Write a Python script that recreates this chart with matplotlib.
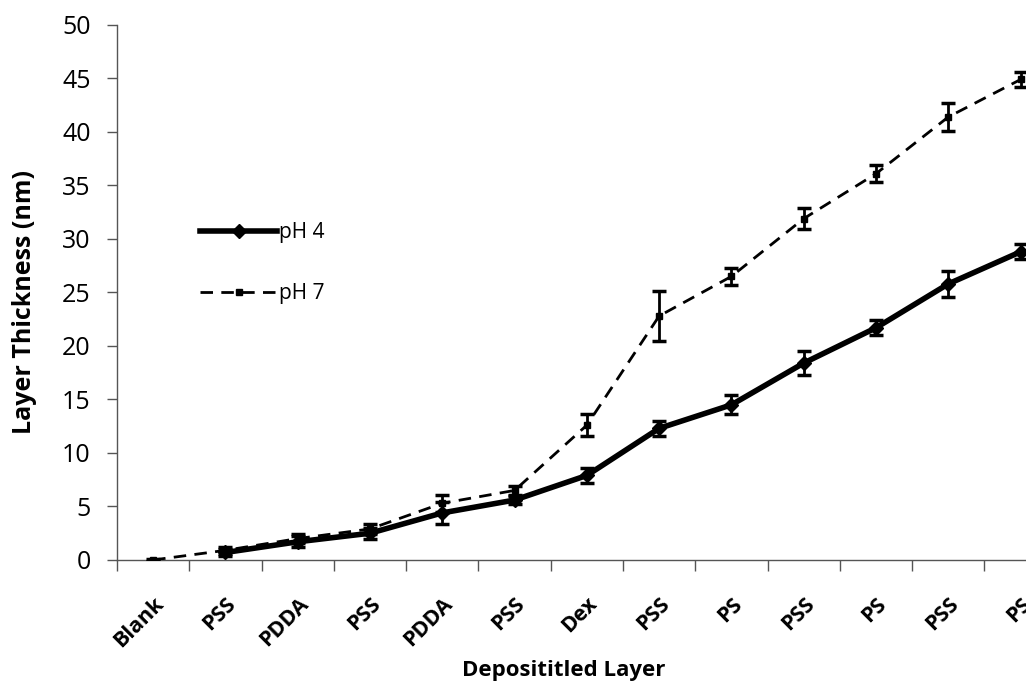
import matplotlib
matplotlib.use("Agg")
import matplotlib.pyplot as plt
from matplotlib.lines import Line2D
from matplotlib.ticker import FixedLocator, NullFormatter

layers = ["Blank", "PSS", "PDDA", "PSS", "PDDA", "PSS", "Dex",
          "PSS", "PS", "PSS", "PS", "PSS", "PS"]

# pH 4 starts at the first PSS layer
ph4_vals = [0.7, 1.7, 2.5, 4.4, 5.6, 7.9, 12.3, 14.5, 18.4, 21.7, 25.8, 28.8]
ph4_err = [0.3, 0.5, 0.5, 1.0, 0.4, 0.7, 0.7, 0.9, 1.1, 0.7, 1.2, 0.7]

ph7_vals = [0.0, 0.9, 2.0, 2.9, 5.3, 6.5, 12.6, 22.8, 26.5, 31.9, 36.1, 41.4, 44.9]
ph7_err = [0.1, 0.3, 0.4, 0.5, 0.8, 0.4, 1.0, 2.3, 0.8, 1.0, 0.8, 1.3, 0.7]

FONT = "Open Sans"
AXIS_GREY = "#555555"

fig = plt.figure(figsize=(10.26, 6.86), dpi=100)
ax = fig.add_axes([0.114, 0.1837, 0.916, 0.78])

x7 = list(range(len(layers)))
x4 = x7[1:]

ph7_style = dict(color="black", lw=2, ls=(0, (4.5, 3)), marker="s", ms=5)
ph4_style = dict(color="black", lw=4, ls="-", marker="D", ms=7)

ax.errorbar(x7, ph7_vals, yerr=ph7_err, capsize=5, capthick=2.5, elinewidth=2,
            zorder=3, **ph7_style)
ax.errorbar(x4, ph4_vals, yerr=ph4_err, capsize=5, capthick=2.5, elinewidth=2,
            zorder=4, **ph4_style)

ax.set_xlim(-0.5, len(layers) - 0.5)
ax.set_ylim(0, 50)
ax.set_yticks(range(0, 51, 5))

ax.set_xticks(x7)
ax.set_xticklabels(layers, rotation=45, ha="right", rotation_mode="anchor",
                   fontsize=15.5, fontweight="bold", family=FONT)
ax.xaxis.set_minor_locator(FixedLocator([i + 0.5 for i in range(-1, len(layers))]))
ax.xaxis.set_minor_formatter(NullFormatter())
ax.tick_params(axis="x", which="major", length=0, pad=24)
ax.tick_params(axis="x", which="minor", length=8, width=1, color=AXIS_GREY)
ax.tick_params(axis="y", length=7, width=1, color=AXIS_GREY, labelsize=18, pad=12)
for lab in ax.get_yticklabels():
    lab.set_family(FONT)

for side in ["top", "right"]:
    ax.spines[side].set_visible(False)
for side in ["left", "bottom"]:
    ax.spines[side].set_color(AXIS_GREY)
    ax.spines[side].set_linewidth(1)

fig.text(0.0234, 0.56, "Layer Thickness (nm)", rotation=90, fontsize=18,
         fontweight="bold", family=FONT, ha="center", va="center")
fig.text(0.549, 0.0146, "Deposititled Layer", fontsize=16, fontweight="bold",
         family=FONT, ha="center", va="baseline")

handles = [Line2D([], [], **ph4_style), Line2D([], [], **ph7_style)]
ax.legend(handles, ["pH 4", "pH 7"], loc="upper left",
          bbox_to_anchor=(0.195, 0.676), bbox_transform=fig.transFigure,
          frameon=False, borderpad=0, borderaxespad=0,
          handlelength=3.7, handletextpad=0.1, labelspacing=1.9,
          prop={"family": FONT, "size": 15})

fig.savefig("out.png", dpi=100, facecolor="white")
